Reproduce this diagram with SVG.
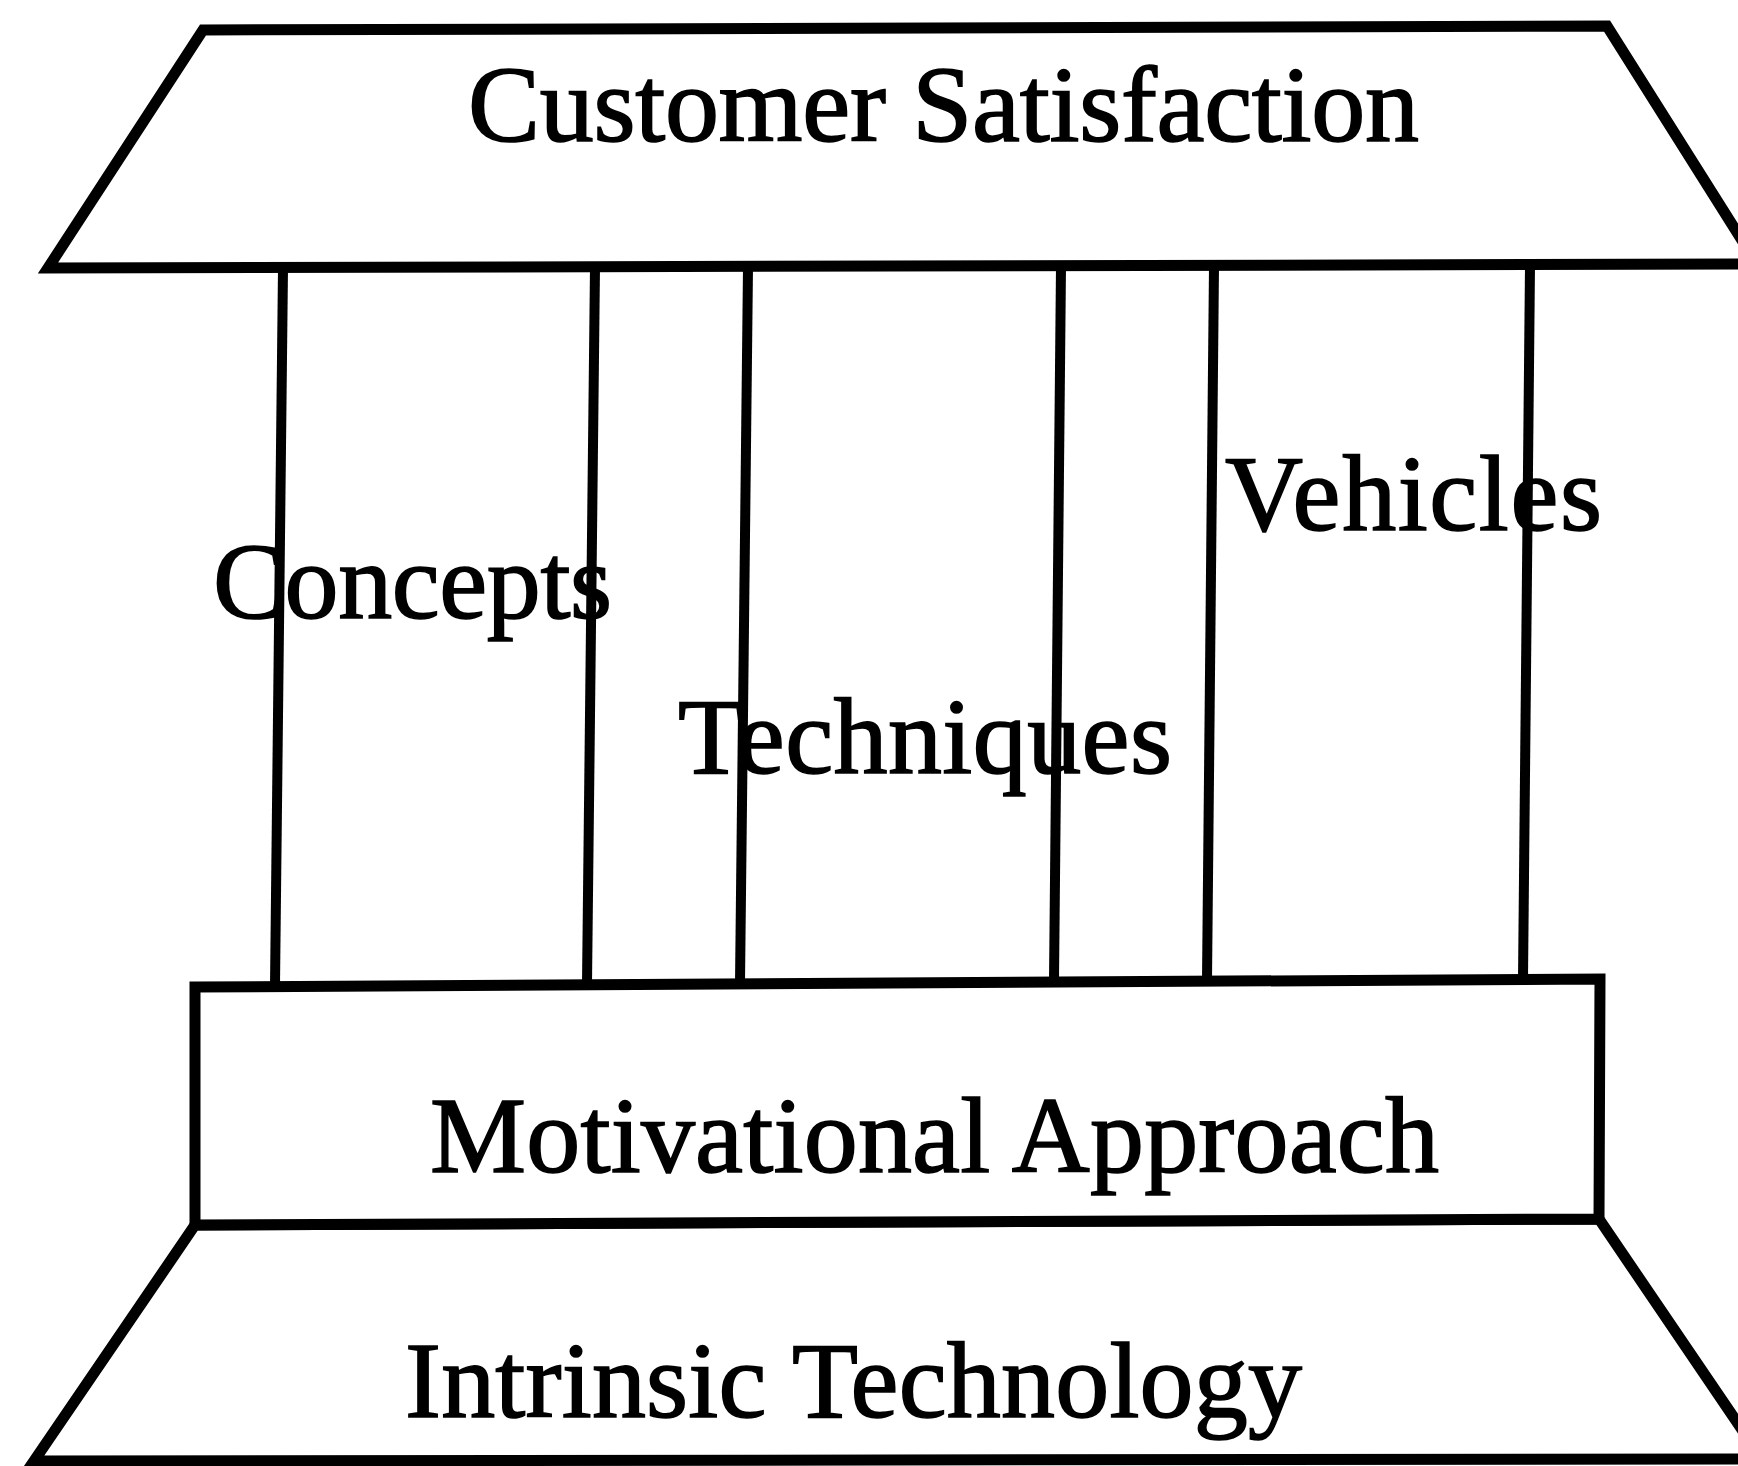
<svg xmlns="http://www.w3.org/2000/svg" width="1738" height="1466" viewBox="0 0 1738 1466">
<style>
.shape{fill:#fff;stroke:#000;stroke-width:11;stroke-linejoin:miter}
.pillar{stroke:#000;stroke-width:10;fill:none}
.lbl{font-family:"Liberation Serif","Times New Roman",serif;font-size:108px;fill:#000;stroke:#000;stroke-width:1.6}
</style>
<rect width="1738" height="1466" fill="#fff"/>
<g id="roof">
<polygon class="shape" points="203,30 1607,26 1757,264 48,268"/>
<text class="lbl" x="468" y="141" textLength="951">Customer Satisfaction</text>
</g>
<g id="connectors">
<line class="pillar" x1="283" y1="268" x2="275" y2="985"/>
<line class="pillar" x1="595" y1="267" x2="587" y2="984"/>
<line class="pillar" x1="748" y1="267" x2="740" y2="983"/>
<line class="pillar" x1="1061" y1="266" x2="1054" y2="981"/>
<line class="pillar" x1="1214" y1="266" x2="1207" y2="980"/>
<line class="pillar" x1="1530" y1="265" x2="1523" y2="979"/>
</g>
<g id="concepts"><text class="lbl" x="213" y="618" textLength="399">Concepts</text></g>
<g id="techniques"><text class="lbl" x="678" y="773" textLength="494">Techniques</text></g>
<g id="vehicles"><text class="lbl" x="1225" y="530" textLength="377">Vehicles</text></g>
<g id="foundation">
<polygon class="shape" points="195,1225 1599,1219 1762,1459 34,1461"/>
<text class="lbl" x="405" y="1417" textLength="897">Intrinsic Technology</text>
</g>
<g id="motivational">
<polygon class="shape" points="195,987 1600,979 1599,1219 195,1225"/>
<text class="lbl" x="430" y="1172" textLength="1009">Motivational Approach</text>
</g>
</svg>
